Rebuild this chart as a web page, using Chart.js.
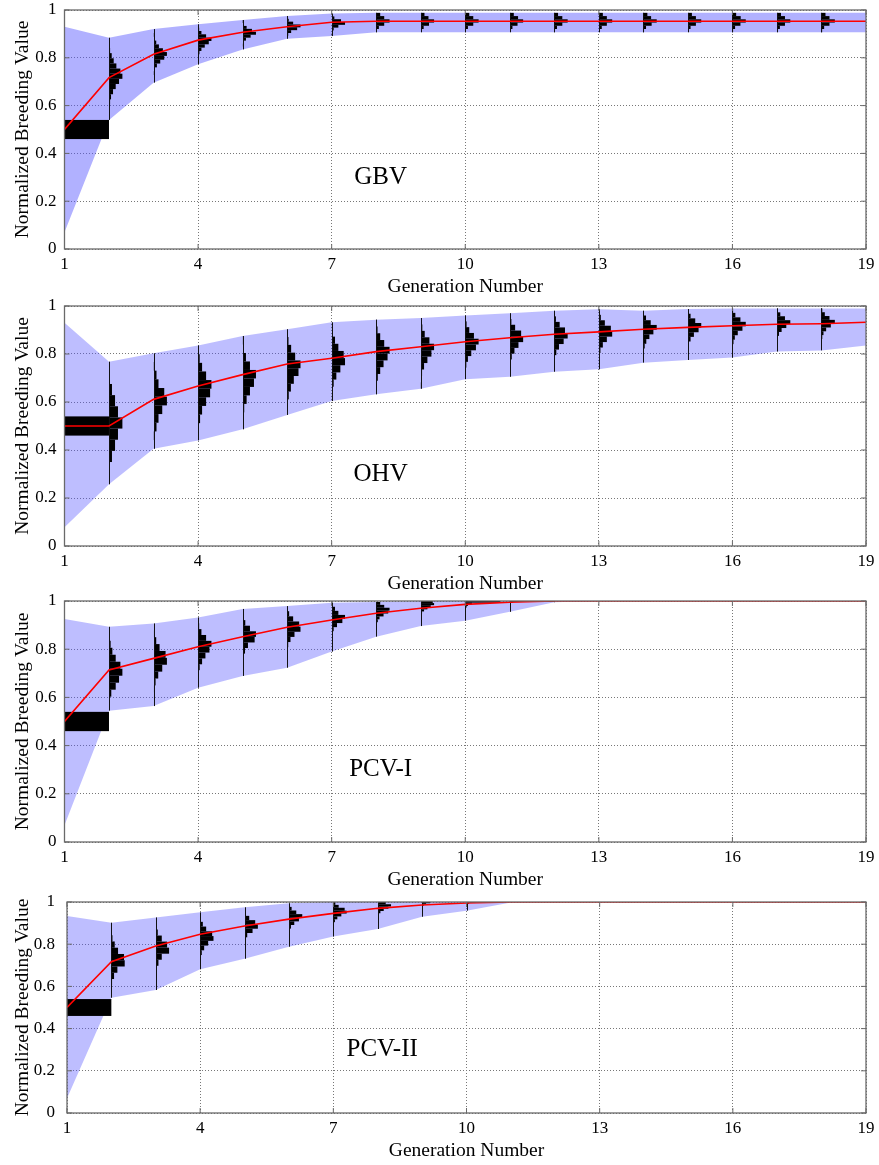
<!DOCTYPE html>
<html>
<head>
<meta charset="utf-8">
<script src="https://cdn.jsdelivr.net/npm/chart.js@4"></script>
<style>
  html, body { margin: 0; padding: 0; background: #fff; }
  #page { position: relative; width: 879px; height: 1165px; }
  .panel { position: absolute; left: 0; width: 879px; }
</style>
</head>
<body>
<div id="page"></div>
<script>
// generations and axis ticks
const GENS = [1, 2, 3, 4, 5, 6, 7, 8, 9, 10, 11, 12, 13, 14, 15, 16, 17, 18, 19];
const XTICKS = [1, 4, 7, 10, 13, 16, 19];
const YTICKS = [0, 0.2, 0.4, 0.6, 0.8, 1];
const INIT_BIN = [0.46, 0.54];   // generation 1 population range

// GBV
const GBV_MEAN  = [0.50, 0.717, 0.815, 0.874, 0.907, 0.930, 0.949, 0.953, 0.953, 0.953, 0.953, 0.953, 0.953, 0.953, 0.953, 0.953, 0.953, 0.953, 0.953];
const GBV_UPPER = [0.93, 0.884, 0.920, 0.940, 0.958, 0.975, 0.985, 0.988, 0.988, 0.988, 0.988, 0.988, 0.988, 0.988, 0.988, 0.988, 0.988, 0.988, 0.988];
const GBV_LOWER = [0.07, 0.540, 0.696, 0.773, 0.835, 0.880, 0.891, 0.907, 0.907, 0.907, 0.907, 0.907, 0.907, 0.907, 0.907, 0.907, 0.907, 0.907, 0.907];
const GBV_HIST = [
  [333],
  [0, 0, 2, 8, 15, 30, 50, 75, 100, 85, 55, 35, 20, 8, 2, 0],
  [0, 0, 2, 10, 25, 50, 80, 100, 70, 40, 20, 8, 2, 0],
  [0, 1, 3, 10, 25, 50, 80, 100, 60, 25, 8, 2],
  [0, 2, 8, 25, 60, 100, 70, 30, 8, 1],
  [2, 8, 30, 75, 100, 45, 12, 2],
  [1, 4, 15, 50, 100, 70, 20, 4],
  [5, 20, 60, 100, 60, 30],
  [5, 22, 62, 100, 58, 28],
  [5, 20, 60, 100, 60, 30],
  [4, 20, 58, 100, 62, 30],
  [5, 20, 60, 100, 60, 28],
  [5, 22, 60, 100, 60, 30],
  [5, 20, 62, 100, 58, 30],
  [4, 20, 60, 100, 60, 30],
  [5, 20, 60, 100, 62, 28],
  [5, 22, 60, 100, 60, 30],
  [5, 20, 60, 100, 60, 30],
  [5, 20, 60, 100, 60, 30]
];

// OHV
const OHV_MEAN  = [0.50, 0.500, 0.611, 0.667, 0.714, 0.758, 0.782, 0.810, 0.830, 0.851, 0.868, 0.882, 0.892, 0.903, 0.911, 0.918, 0.924, 0.926, 0.932];
const OHV_UPPER = [0.93, 0.768, 0.803, 0.835, 0.875, 0.903, 0.932, 0.943, 0.950, 0.960, 0.970, 0.980, 0.986, 0.980, 0.987, 0.990, 0.990, 0.990, 0.990];
const OHV_LOWER = [0.078, 0.257, 0.405, 0.440, 0.486, 0.546, 0.604, 0.632, 0.655, 0.695, 0.705, 0.726, 0.736, 0.764, 0.775, 0.785, 0.810, 0.815, 0.835];
const OHV_HIST = [
  [333],
  [0, 2, 22, 45, 67, 100, 67, 45, 22, 2, 0],
  [0, 2, 22, 37, 65, 100, 80, 37, 22, 2, 0],
  [0, 3, 15, 30, 60, 90, 100, 60, 30, 12, 2],
  [0, 3, 12, 30, 55, 85, 100, 55, 25, 10, 2],
  [0, 3, 12, 28, 50, 85, 100, 60, 30, 10, 2],
  [2, 5, 15, 35, 65, 100, 90, 50, 25, 8, 2],
  [1, 4, 12, 30, 55, 85, 100, 60, 30, 10, 3],
  [1, 3, 10, 25, 50, 80, 100, 65, 30, 12, 3],
  [0, 2, 8, 20, 45, 80, 100, 65, 30, 10, 2],
  [0, 2, 6, 15, 35, 65, 100, 85, 40, 12, 3],
  [0, 2, 5, 15, 35, 70, 100, 80, 40, 12, 3],
  [0, 1, 4, 12, 30, 60, 100, 90, 45, 15, 3],
  [0, 1, 3, 10, 22, 45, 75, 100, 55, 20, 4],
  [0, 1, 3, 8, 20, 45, 80, 100, 55, 20, 5],
  [0, 1, 3, 8, 18, 40, 75, 100, 60, 22, 5],
  [0, 1, 2, 6, 15, 35, 70, 100, 60, 25, 6],
  [0, 1, 2, 6, 15, 35, 70, 100, 60, 25, 6],
  [0, 1, 2, 5, 12, 30, 65, 100, 65, 28, 8]
];

// PCV-I
const PCV1_MEAN  = [0.50, 0.714, 0.762, 0.810, 0.852, 0.891, 0.921, 0.949, 0.970, 0.986, 0.995, 1, 1, 1, 1, 1, 1, 1, 1];
const PCV1_UPPER = [0.925, 0.893, 0.907, 0.932, 0.967, 0.979, 0.993, 0.996, 1, 1, 1, 1, 1, 1, 1, 1, 1, 1, 1];
const PCV1_LOWER = [0.07, 0.545, 0.564, 0.640, 0.689, 0.723, 0.790, 0.852, 0.896, 0.918, 0.955, 0.995, 1, 1, 1, 1, 1, 1, 1];
const PCV1_HIST = [
  [333],
  [0, 0, 17, 50, 75, 100, 85, 50, 25, 12, 0, 0],
  [0, 0, 3, 15, 35, 65, 100, 90, 45, 20, 3, 0],
  [0, 0, 3, 12, 30, 55, 85, 100, 60, 25, 8, 0],
  [0, 0, 0, 5, 18, 40, 90, 100, 55, 20, 5, 0],
  [0, 0, 0, 2, 8, 25, 55, 100, 90, 45, 15, 0],
  [0, 0, 0, 0, 5, 15, 40, 80, 100, 50, 25, 8],
  [0, 0, 0, 0, 5, 12, 25, 55, 90, 100, 60, 30],
  [0, 0, 0, 0, 0, 3, 10, 25, 50, 75, 100, 90],
  [0, 0, 0, 0, 0, 0, 0, 5, 10, 20, 50, 260],
  [0, 0, 0, 0, 0, 0, 0, 0, 0, 5, 20, 330],
  [], [], [], [], [], [], [], []
];

// PCV-II
const PCV2_MEAN  = [0.50, 0.717, 0.791, 0.847, 0.886, 0.919, 0.946, 0.970, 0.986, 0.995, 1, 1, 1, 1, 1, 1, 1, 1, 1];
const PCV2_UPPER = [0.934, 0.902, 0.927, 0.951, 0.975, 0.994, 1, 1, 1, 1, 1, 1, 1, 1, 1, 1, 1, 1, 1];
const PCV2_LOWER = [0.07, 0.546, 0.583, 0.681, 0.731, 0.788, 0.836, 0.872, 0.930, 0.959, 0.998, 1, 1, 1, 1, 1, 1, 1, 1];
const PCV2_HIST = [
  [333],
  [0, 0, 5, 20, 45, 100, 95, 50, 25, 8, 0, 0],
  [0, 0, 0, 5, 20, 45, 100, 85, 45, 15, 3, 0],
  [0, 0, 3, 12, 30, 60, 100, 90, 45, 20, 5, 0],
  [0, 0, 0, 0, 5, 20, 60, 100, 80, 35, 10, 0],
  [0, 0, 0, 0, 5, 15, 40, 75, 100, 55, 20, 3],
  [0, 0, 0, 0, 5, 12, 30, 60, 100, 85, 40, 15],
  [0, 0, 0, 0, 0, 3, 8, 20, 45, 80, 100, 60],
  [0, 0, 0, 0, 0, 0, 0, 0, 5, 12, 30, 60],
  [0, 0, 0, 0, 0, 0, 0, 0, 0, 5, 20, 250],
  [], [], [], [], [], [], [], [], []
];

const FONT = '"Liberation Serif", "Times New Roman", serif';
const HIST_SCALE = 0.003;   // generations per count unit
const X_H = 52;
const PAD_T = 10;

const PANELS = [
  { name: 'GBV', mean: GBV_MEAN, upper: GBV_UPPER, lower: GBV_LOWER, hist: GBV_HIST,
    band: 'rgba(85,85,255,0.46)', top: 10, bottom: 249, left: 64.5, right: 866, yPad: 8 },
  { name: 'OHV', mean: OHV_MEAN, upper: OHV_UPPER, lower: OHV_LOWER, hist: OHV_HIST,
    band: 'rgba(85,85,255,0.38)', top: 306, bottom: 546, left: 64.5, right: 866, yPad: 8 },
  { name: 'PCV-I', mean: PCV1_MEAN, upper: PCV1_UPPER, lower: PCV1_LOWER, hist: PCV1_HIST,
    band: 'rgba(85,85,255,0.38)', top: 601, bottom: 842, left: 64.5, right: 866, yPad: 8 },
  { name: 'PCV-II', mean: PCV2_MEAN, upper: PCV2_UPPER, lower: PCV2_LOWER, hist: PCV2_HIST,
    band: 'rgba(85,85,255,0.38)', top: 902, bottom: 1113, left: 67, right: 866, yPad: 12 }
];

function pts(arr) {
  return GENS.map((g, i) => ({ x: g, y: arr[i] }));
}

// histograms drawn just before the mean line, so the red line stays on top
function histPlugin(p) {
  return {
    id: 'hists',
    beforeDatasetDraw(chart, args) {
      if (args.index !== 0) return;
      const { ctx, chartArea: a } = chart;
      const xs = chart.scales.x, ys = chart.scales.y;
      ctx.save();
      ctx.beginPath();
      ctx.rect(a.left, a.top, a.right - a.left, a.bottom - a.top);
      ctx.clip();
      p.hist.forEach((counts, i) => {
        const lo = i === 0 ? INIT_BIN[0] : p.lower[i];
        const hi = i === 0 ? INIT_BIN[1] : p.upper[i];
        const px = Math.round(xs.getPixelForValue(GENS[i]));
        const step = (hi - lo) / (counts.length || 1);
        ctx.fillStyle = '#000';
        counts.forEach((c, k) => {
          if (!c) return;
          const y0 = ys.getPixelForValue(lo + k * step);
          const y1 = ys.getPixelForValue(lo + (k + 1) * step);
          const x1 = xs.getPixelForValue(GENS[i] + c * HIST_SCALE);
          ctx.fillRect(px, y1, x1 - px, Math.max(y0 - y1, 1));
        });
        if (i > 0 && hi > lo) {
          ctx.strokeStyle = '#111';
          ctx.lineWidth = 1;
          ctx.beginPath();
          ctx.moveTo(px + 0.5, ys.getPixelForValue(lo));
          ctx.lineTo(px + 0.5, ys.getPixelForValue(hi));
          ctx.stroke();
        }
      });
      ctx.restore();
    },
    afterDraw(chart) {
      const { ctx, chartArea: a } = chart;
      const xs = chart.scales.x, ys = chart.scales.y;
      ctx.save();
      ctx.strokeStyle = '#6a6a6a';
      ctx.lineWidth = 1.3;
      ctx.strokeRect(a.left, a.top, a.right - a.left, a.bottom - a.top);
      ctx.lineWidth = 1;
      ctx.beginPath();
      XTICKS.forEach(v => {
        const px = xs.getPixelForValue(v);
        ctx.moveTo(px, a.bottom); ctx.lineTo(px, a.bottom - 5);
        ctx.moveTo(px, a.top); ctx.lineTo(px, a.top + 5);
      });
      YTICKS.forEach(v => {
        const py = ys.getPixelForValue(v);
        ctx.moveTo(a.left, py); ctx.lineTo(a.left + 5, py);
        ctx.moveTo(a.right, py); ctx.lineTo(a.right - 5, py);
      });
      ctx.stroke();
      ctx.fillStyle = '#000';
      ctx.font = '25px ' + FONT;
      ctx.textAlign = 'center';
      ctx.textBaseline = 'middle';
      ctx.fillText(p.name, xs.getPixelForValue(8.1), ys.getPixelForValue(0.3));
      ctx.restore();
    }
  };
}

const page = document.getElementById('page');

PANELS.forEach(p => {
  const box = document.createElement('div');
  box.className = 'panel';
  box.style.top = (p.top - PAD_T) + 'px';
  box.style.height = (p.bottom - p.top + PAD_T + X_H) + 'px';
  const canvas = document.createElement('canvas');
  box.appendChild(canvas);
  page.appendChild(box);

  new Chart(canvas.getContext('2d'), {
    type: 'line',
    data: {
      datasets: [
        { data: pts(p.mean), borderColor: '#ff0000', borderWidth: 1.6, pointRadius: 0, fill: false },
        { data: pts(p.upper), borderColor: 'transparent', borderWidth: 0, pointRadius: 0,
          backgroundColor: p.band, fill: '+1' },
        { data: pts(p.lower), borderColor: 'transparent', borderWidth: 0, pointRadius: 0, fill: false }
      ]
    },
    options: {
      responsive: true,
      maintainAspectRatio: false,
      animation: false,
      events: [],
      layout: { padding: { top: PAD_T, right: 879 - p.right, bottom: 0, left: 0 } },
      plugins: { legend: { display: false }, tooltip: { enabled: false } },
      scales: {
        x: {
          type: 'linear', min: 1, max: 19,
          afterBuildTicks: s => { s.ticks = XTICKS.map(v => ({ value: v })); },
          afterFit: s => { s.height = X_H; s.paddingLeft = 0; s.paddingRight = 0; },
          ticks: { autoSkip: false, maxRotation: 0, padding: 5, color: '#000',
                   font: { family: FONT, size: 17 }, callback: v => String(v) },
          grid: { color: '#777', lineWidth: 1, drawTicks: false },
          border: { display: false, dash: [1, 2] },
          title: { display: true, text: 'Generation Number', color: '#000',
                   font: { family: FONT, size: 19.5 }, padding: { top: 0, bottom: 2 } }
        },
        y: {
          min: 0, max: 1,
          afterBuildTicks: s => { s.ticks = YTICKS.map(v => ({ value: v })); },
          afterFit: s => { s.width = p.left; s.paddingTop = 0; s.paddingBottom = 0; },
          ticks: { padding: p.yPad, color: '#000', font: { family: FONT, size: 17 },
                   callback: v => String(v) },
          grid: { color: '#777', lineWidth: 1, drawTicks: false },
          border: { display: false, dash: [1, 2] },
          title: { display: true, text: 'Normalized Breeding Value', color: '#000',
                   font: { family: FONT, size: 19.5 }, padding: { top: 11, bottom: 0 } }
        }
      }
    },
    plugins: [histPlugin(p)]
  });
});
</script>
</body>
</html>
